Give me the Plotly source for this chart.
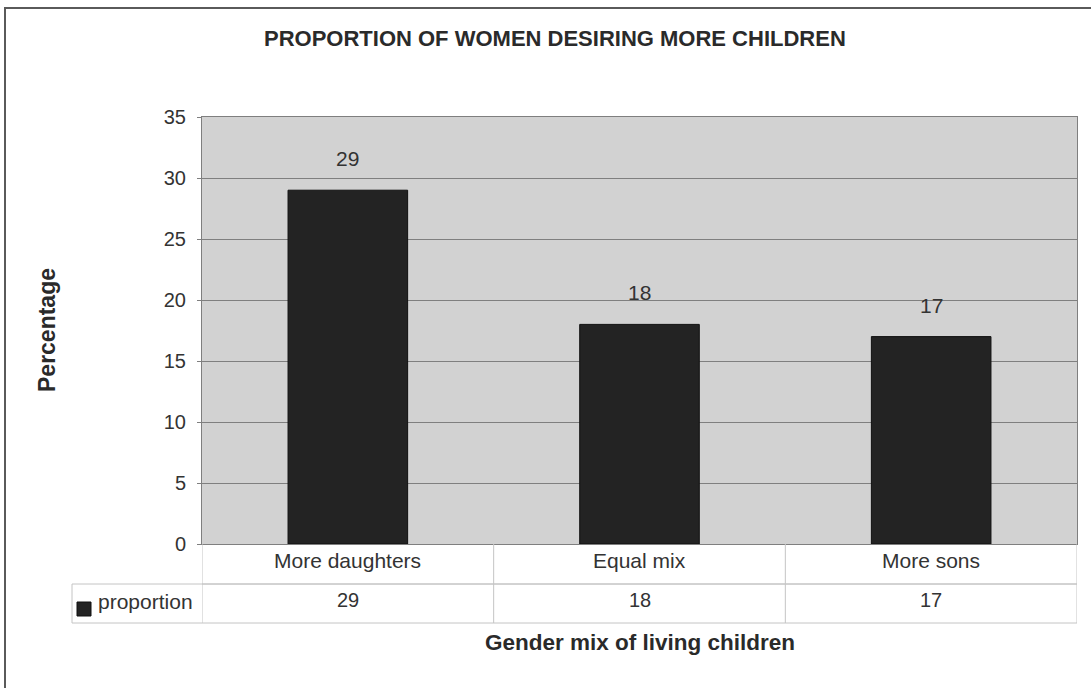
import plotly.graph_objects as go

# Chart data
categories = ["More daughters", "Equal mix", "More sons"]
series_name = "proportion"
values = [29, 18, 17]
y_ticks = [0, 5, 10, 15, 20, 25, 30, 35]

title_text = "PROPORTION OF WOMEN DESIRING MORE CHILDREN"
x_title = "Gender mix of living children"
y_title = "Percentage"

W, H = 1091, 688
L, R, T, B = 202, 14, 117, 144
plot_w = W - L - R
plot_h = H - T - B

FONT = "Arial, Liberation Sans, sans-serif"
TXT = "#333333"
BAR = "#232323"
GRID = "#7f7f7f"
TABLE = "#c4c4c4"


def px_x(px):
    return (px - L) / plot_w


def px_y(py):
    return (H - B - py) / plot_h


fig = go.Figure()
fig.add_trace(go.Bar(
    x=categories, y=values, name=series_name,
    marker=dict(color=BAR, line=dict(color="#111111", width=1)),
    width=0.41, showlegend=False, hoverinfo="x+y",
))

annotations = []
shapes = []

# value labels above bars
for c, v in zip(categories, values):
    annotations.append(dict(x=c, y=v, xref="x", yref="y", text=str(v),
                            showarrow=False, yanchor="bottom", yshift=18,
                            font=dict(family=FONT, size=21, color=TXT)))

# data table beneath the plot
row1_top, row1_bot, row2_bot = px_y(544), px_y(584), px_y(623)
tab_left = px_x(72)
n = len(categories)
line = dict(color=TABLE, width=1)
shapes += [
    dict(type="line", xref="paper", yref="paper", x0=0, x1=1, y0=row1_bot, y1=row1_bot, line=line),
    dict(type="line", xref="paper", yref="paper", x0=tab_left, x1=1, y0=row1_bot, y1=row1_bot, line=line),
    dict(type="line", xref="paper", yref="paper", x0=tab_left, x1=1, y0=row2_bot, y1=row2_bot, line=line),
    dict(type="line", xref="paper", yref="paper", x0=tab_left, x1=tab_left, y0=row1_bot, y1=row2_bot, line=line),
]
for i in range(n + 1):
    shapes.append(dict(type="line", xref="x", yref="paper", x0=i - 0.5, x1=i - 0.5,
                       y0=row1_top, y1=row2_bot, line=line))
for c, v in zip(categories, values):
    annotations.append(dict(x=c, y=px_y(560), xref="x", yref="paper",
                            text=c, showarrow=False, yanchor="middle",
                            font=dict(family=FONT, size=21, color=TXT)))
    annotations.append(dict(x=c, y=px_y(600), xref="x", yref="paper",
                            text=str(v), showarrow=False, yanchor="middle",
                            font=dict(family=FONT, size=20, color=TXT)))

# legend key in the table's first cell
shapes.append(dict(type="rect", xref="paper", yref="paper",
                   x0=px_x(77), x1=px_x(91), y0=px_y(616), y1=px_y(602),
                   fillcolor=BAR, line=dict(color="#111111", width=1)))
annotations.append(dict(x=px_x(96), y=px_y(601), xref="paper", yref="paper",
                        text=series_name, showarrow=False, xanchor="left", yanchor="middle",
                        font=dict(family=FONT, size=21, color=TXT)))

# titles
annotations.append(dict(x=px_x(555), y=px_y(38), xref="paper", yref="paper", text="<b>" + title_text + "</b>",
                        showarrow=False, xanchor="center", yanchor="middle",
                        font=dict(family=FONT, size=22, color="#2a2a2a")))
annotations.append(dict(x=px_x(640), y=px_y(642), xref="paper", yref="paper", text="<b>" + x_title + "</b>",
                        showarrow=False, xanchor="center", yanchor="middle",
                        font=dict(family=FONT, size=22.5, color="#2a2a2a")))
annotations.append(dict(x=px_x(47), y=px_y(330), xref="paper", yref="paper", text="<b>" + y_title + "</b>",
                        showarrow=False, textangle=-90, xanchor="center", yanchor="middle",
                        font=dict(family=FONT, size=23, color="#2a2a2a")))

# outer chart border
shapes.append(dict(type="rect", xref="paper", yref="paper",
                   x0=px_x(5), x1=px_x(1200), y0=px_y(800), y1=px_y(8),
                   line=dict(color="#5a5a5a", width=2), fillcolor="rgba(0,0,0,0)", layer="below"))

fig.update_layout(
    width=W, height=H,
    margin=dict(l=L, r=R, t=T, b=B),
    paper_bgcolor="white",
    plot_bgcolor="#d2d2d2",
    bargap=0.59,
    annotations=annotations,
    shapes=shapes,
    font=dict(family=FONT, color=TXT),
    xaxis=dict(showticklabels=False, ticks="", showgrid=False, showline=True,
               linecolor=GRID, linewidth=1, mirror=True, range=[-0.5, n - 0.5]),
    yaxis=dict(range=[0, 35], tickvals=y_ticks, ticks="outside", ticklen=4,
               tickcolor=GRID, showgrid=True, gridcolor=GRID, gridwidth=1,
               showline=True, linecolor=GRID, linewidth=1, mirror=True,
               zeroline=False, tickfont=dict(family=FONT, size=20, color=TXT),
               ticklabelstandoff=7),
)

fig.write_html("out.html")
